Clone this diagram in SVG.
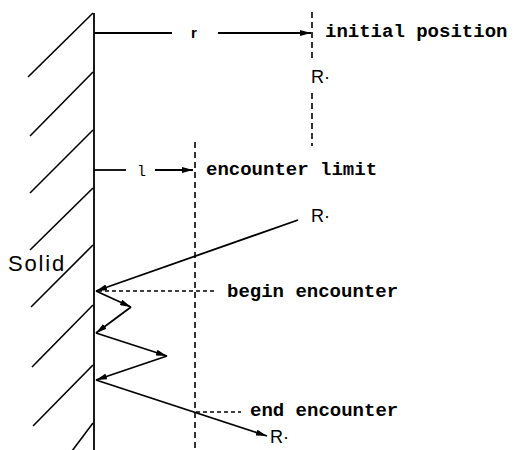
<svg xmlns="http://www.w3.org/2000/svg" width="516" height="450" viewBox="0 0 516 450">
<style>
.ln{stroke:#000;stroke-width:1.8;fill:none}
.hatch{stroke:#000;stroke-width:1.6;fill:none}
.dv{stroke:#000;stroke-width:1.6;fill:none;stroke-dasharray:6 4}
.dh{stroke:#000;stroke-width:1.6;fill:none;stroke-dasharray:4 3}
.mono{font-family:"Liberation Mono","DejaVu Sans Mono",monospace;font-size:19px;font-weight:bold;fill:#000}
.sans{font-family:"Liberation Sans",Arial,sans-serif;fill:#000}
</style>
<defs>
<marker id="ah" viewBox="0 0 11 6" refX="11" refY="3" markerWidth="11" markerHeight="6" orient="auto" markerUnits="userSpaceOnUse">
<path d="M0,0 L11,3 L0,6 z" fill="#000"/>
</marker>
</defs>
<rect width="516" height="450" fill="#fff"/>
<g id="solid">
<line class="ln" x1="94" y1="13" x2="94" y2="450"/>
<g class="hatch">
<line x1="93" y1="13" x2="28" y2="77"/>
<line x1="93" y1="72" x2="30" y2="136"/>
<line x1="93" y1="130" x2="30" y2="193"/>
<line x1="93" y1="188" x2="30" y2="250"/>
<line x1="93" y1="245" x2="31" y2="307"/>
<line x1="93" y1="305" x2="32" y2="367"/>
<line x1="93" y1="365" x2="33" y2="426"/>
<line x1="93" y1="423" x2="66" y2="459"/>
</g>
<text class="sans" x="8" y="271" font-size="22" letter-spacing="1.8">Solid</text>
</g>
<g id="initial-position">
<path class="dv" d="M312,12 V58 M312,93 V146"/>
<text class="sans" x="311" y="83" font-size="18">R·</text>
<text class="mono" x="325" y="37">initial position</text>
</g>
<g id="encounter-limit">
<line class="dv" x1="195" y1="142" x2="195" y2="450"/>
<text class="mono" x="206" y="175">encounter limit</text>
</g>
<g id="radical-2">
<text class="sans" x="311" y="222" font-size="18">R·</text>
</g>
<g id="radical-3">
<text class="sans" x="270" y="443" font-size="18">R·</text>
</g>
<g id="begin-encounter">
<line class="dh" x1="98" y1="291" x2="216" y2="291"/>
<text class="mono" x="227" y="297">begin encounter</text>
</g>
<g id="end-encounter">
<line class="dh" x1="196" y1="412" x2="241" y2="412"/>
<text class="mono" x="250" y="416">end encounter</text>
</g>
<g id="connectors">
<line class="ln" x1="94" y1="33" x2="172" y2="33"/>
<text class="sans" x="191" y="38" font-size="15" font-weight="bold">r</text>
<line class="ln" x1="218" y1="33" x2="311" y2="33" marker-end="url(#ah)"/>
<line class="ln" x1="94" y1="170" x2="126" y2="170"/>
<text x="137" y="176" font-family="Liberation Mono, monospace" font-size="15">l</text>
<line class="ln" x1="155" y1="170" x2="193" y2="170" marker-end="url(#ah)"/>
<line class="ln" x1="298" y1="220" x2="96" y2="291" marker-end="url(#ah)"/>
<line class="ln" x1="96" y1="291" x2="131" y2="307" marker-end="url(#ah)"/>
<line class="ln" x1="131" y1="307" x2="96" y2="333" marker-end="url(#ah)"/>
<line class="ln" x1="96" y1="333" x2="167" y2="356" marker-end="url(#ah)"/>
<line class="ln" x1="167" y1="356" x2="96" y2="380" marker-end="url(#ah)"/>
<line class="ln" x1="96" y1="380" x2="267" y2="436" marker-end="url(#ah)"/>
</g>
</svg>
